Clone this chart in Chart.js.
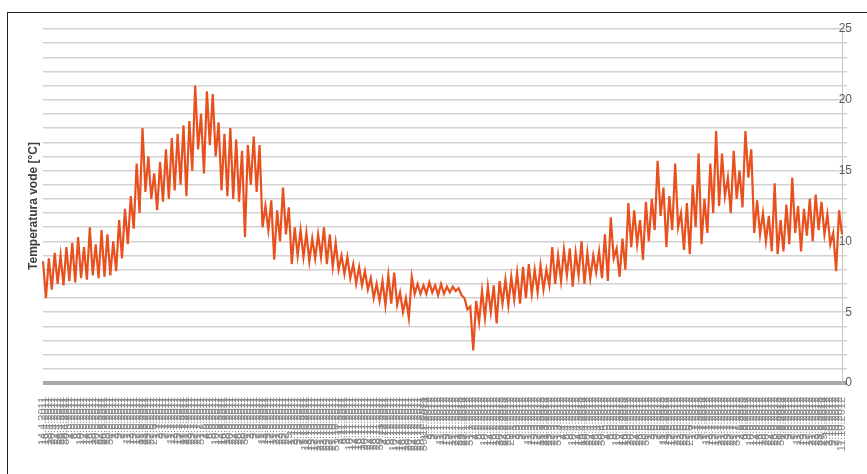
<!DOCTYPE html>
<html>
<head>
<meta charset="utf-8">
<script src="https://cdn.jsdelivr.net/npm/chart.js@4/dist/chart.umd.min.js"></script>
<style>
  html, body { margin: 0; padding: 0; background: #fff; }
  #wrap { position: relative; width: 867px; height: 474px; overflow: hidden; }
  #frame { position: absolute; left: 7px; top: 12px; width: 900px; height: 500px;
           border-top: 1px solid #222; border-left: 1px solid #222; pointer-events: none; }
  canvas { position: absolute; left: 0; top: 0; }
</style>
</head>
<body>
<div id="wrap"><canvas id="chart" width="867" height="474"></canvas><div id="frame"></div></div>
<script>
// daily high / low water temperature, one pair per column
const dailyHigh = [
  8.6, 8.8, 9.2, 9.0, 9.6, 9.9, 10.3, 9.6, 11.0, 9.8, 10.8, 10.5, 10.0,
  11.5, 12.3, 13.2, 15.5, 18.0, 16.0, 14.8, 15.6, 16.5, 17.3, 17.6, 18.2, 18.5,
  21.0, 19.0, 20.6, 20.4, 18.4, 17.6, 18.0, 17.2, 16.4, 16.8, 17.4, 16.8,
  12.5, 12.9, 12.2, 13.8, 12.4, 11.0, 10.8, 10.6, 10.2, 10.5, 11.0, 10.5,
  9.9, 9.0, 8.9, 8.4, 8.2, 7.9, 7.4, 7.0, 7.2, 7.6, 7.8, 6.4, 6.0,
  7.5, 7.0, 6.9, 7.1, 6.9, 7.0, 6.8, 6.8, 6.7, 6.0, 5.4, 5.8, 6.5, 6.8, 6.9,
  7.2, 7.3, 7.5, 7.8, 8.2, 8.4, 8.0, 8.3, 8.0, 9.6, 9.0, 9.4, 9.5, 9.2, 10.0,
  9.2, 9.0, 9.3, 10.5, 11.7, 9.5, 10.2, 12.7, 12.2, 11.5, 12.8, 13.0, 15.7,
  13.8, 13.2, 15.5, 12.0, 12.7, 14.0, 16.2, 13.0, 15.5, 17.8, 16.2, 14.5,
  16.4, 15.0, 17.8, 16.5, 12.9, 12.0, 11.8, 14.1, 11.5, 12.6, 14.5, 12.5,
  12.3, 13.0, 13.3, 12.8, 11.9, 10.6, 12.2
]
const dailyLow = [
  6.0, 6.6, 7.0, 6.9, 7.2, 7.1, 7.4, 7.3, 7.6, 7.4, 7.5, 7.6, 7.9,
  8.8, 9.8, 10.9, 12.0, 13.5, 13.0, 12.2, 12.8, 13.0, 13.6, 14.0, 13.2, 15.0,
  16.5, 14.8, 16.8, 16.0, 13.6, 13.2, 13.0, 12.8, 10.3, 14.0, 13.5, 11.0,
  10.8, 8.7, 10.0, 10.5, 8.4, 9.0, 8.9, 8.6, 8.8, 8.9, 8.4, 8.2,
  8.0, 7.7, 7.4, 7.0, 6.9, 6.6, 6.0, 5.8, 5.5, 5.6, 5.5, 5.0, 4.6,
  6.3, 6.3, 6.3, 6.4, 6.2, 6.3, 6.4, 6.5, 6.2, 5.2, 2.3, 4.3, 4.6, 5.0, 4.2,
  5.6, 5.5, 5.9, 5.6, 6.0, 6.3, 6.4, 6.6, 6.9, 7.0, 7.2, 7.6, 6.8, 7.6, 7.0,
  7.4, 7.8, 7.4, 7.2, 8.8, 7.5, 8.0, 9.6, 9.8, 8.7, 10.0, 10.8, 11.8,
  9.6, 10.8, 11.0, 9.4, 9.1, 11.0, 9.8, 10.6, 12.0, 12.5, 13.2, 12.0,
  13.0, 12.4, 14.5, 10.6, 10.5, 10.0, 9.3, 9.1, 9.3, 9.8, 10.6, 9.3,
  10.4, 10.0, 10.8, 10.5, 9.8, 7.9, 10.5
]
const startDate = new Date(2011, 3, 14)
const yTicksShown = [0, 5, 10, 15, 20, 25]

const labels = []
const temps = []
dailyHigh.forEach((hi, i) => {
  temps.push(hi, dailyLow[i])
})
temps.forEach((t, i) => {
  const d = new Date(startDate)
  d.setDate(d.getDate() + i * 2)
  labels.push(`${d.getDate()}.${d.getMonth() + 1}.${d.getFullYear()}`)
})

const font = 'Liberation Sans, Arial, sans-serif'

new Chart(document.getElementById('chart'), {
  type: 'line',
  data: {
    labels,
    datasets: [{
      data: temps,
      yAxisID: 'y',
      borderColor: '#e8501e',
      borderWidth: 2.2,
      pointRadius: 0,
      tension: 0,
    }],
  },
  options: {
    responsive: false,
    animation: false,
    devicePixelRatio: 1,
    layout: { padding: { top: 29, right: 0, left: 0, bottom: 0 } },
    plugins: { legend: { display: false }, tooltip: { enabled: false } },
    scales: {
      x: {
        offset: false,
        grid: { display: false },
        border: { display: false },
        ticks: { autoSkip: false, maxRotation: 90, minRotation: 90, padding: 6,
                 color: '#8a8a8a', font: { family: font, size: 11 } },
        afterFit: s => { s.height = 91 },
      },
      y: {
        position: 'right',
        min: 0,
        max: 25,
        ticks: {
          stepSize: 1,
          autoSkip: false,
          mirror: true,
          padding: 10,
          color: '#5a5a5a',
          font: { family: font, size: 12 },
          callback: v => yTicksShown.includes(v) ? v : '',
        },
        grid: {
          color: c => c.tick && c.tick.value === 0 ? '#a8a8a8' : '#d2d2d2',
          lineWidth: c => c.tick && c.tick.value === 0 ? 4 : 1.5,
          tickLength: 5,
        },
        border: { display: true, color: '#c4c4c4', width: 1 },
      },
      yTitle: {
        position: 'left',
        min: 0,
        max: 25,
        grid: { display: false },
        border: { display: false },
        ticks: { display: false },
        title: { display: true, text: 'Temperatura vode [°C]', color: '#404040',
                 padding: { top: 26, bottom: 0 }, font: { family: font, size: 12, weight: 'bold' } },
        afterFit: s => { s.width = 43 },
      },
    },
  },
})
</script>
</body>
</html>
